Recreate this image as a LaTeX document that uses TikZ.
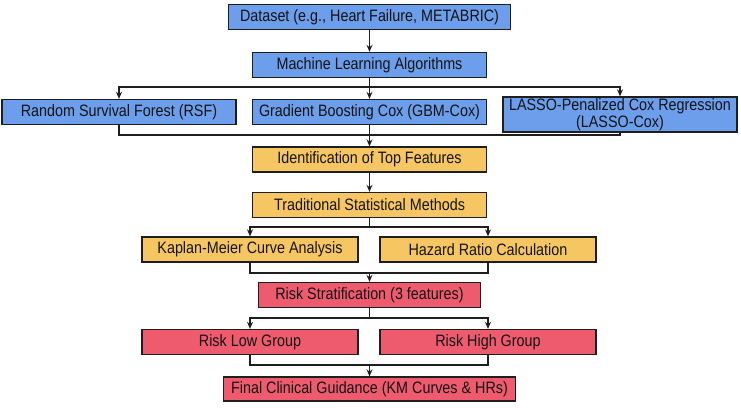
\documentclass[tikz,border=0pt]{standalone}
\usepackage{fontspec}
\setmainfont[FakeStretch=0.87]{Liberation Sans}
\usetikzlibrary{arrows.meta}
\definecolor{bbox}{HTML}{6D9EEB}
\definecolor{ybox}{HTML}{F6C662}
\definecolor{rbox}{HTML}{EE5B6F}
\definecolor{edge}{HTML}{1E1E1E}
\begin{document}
\begin{tikzpicture}[x=1pt,y=-1pt,
 box/.style={draw=edge, line width=1.3pt, minimum height=25pt, inner sep=0pt, font=\fontsize{16.5}{17.5}\selectfont, text=black!92},
 arr/.style={draw=edge, -{Stealth[length=7pt,width=6pt]}, line width=1.2pt},
 ln/.style={draw=edge, line width=1.2pt}]
\fill[white] (0,0) rectangle (741,407);
\useasboundingbox (0,0) rectangle (741,407);

\node[box, fill=bbox, minimum width=282pt] (ds) at (369.5,17) {Dataset (e.g., Heart Failure, METABRIC)};
\node[box, fill=bbox, minimum width=234pt] (ml) at (369.5,65) {Machine Learning Algorithms};
\node[box, fill=bbox, minimum width=234pt] (rsf) at (119,112) {Random Survival Forest (RSF)};
\node[box, fill=bbox, minimum width=234pt] (gbm) at (369.5,112) {Gradient Boosting Cox (GBM-Cox)};
\node[box, fill=bbox, minimum width=234pt, minimum height=35pt, align=center] (lasso) at (620,114.5) {LASSO-Penalized Cox Regression\\(LASSO-Cox)};
\node[box, fill=ybox, minimum width=234pt] (itf) at (369.5,159.5) {Identification of Top Features};
\node[box, fill=ybox, minimum width=234pt] (tsm) at (369.5,205) {Traditional Statistical Methods};
\node[box, fill=ybox, minimum width=216pt] (km) at (250,249.5) {Kaplan-Meier Curve Analysis};
\node[box, fill=ybox, minimum width=216pt] (hr) at (488,249.5) {Hazard Ratio Calculation};
\node[box, fill=rbox, minimum width=222pt] (rs) at (369.5,295) {Risk Stratification (3 features)};
\node[box, fill=rbox, minimum width=216pt] (low) at (250,342) {Risk Low Group};
\node[box, fill=rbox, minimum width=216pt] (high) at (488,342) {Risk High Group};
\node[box, fill=rbox, minimum width=292pt, minimum height=24pt] (fin) at (369.5,389) {Final Clinical Guidance (KM Curves \& HRs)};

\coordinate (f1) at (369.5,87);
\coordinate (m1) at (369.5,135);
\coordinate (f2) at (369.5,227);
\coordinate (m2) at (369.5,273);
\coordinate (f3) at (369.5,318);
\coordinate (m3) at (369.5,365);

\draw[arr] (ds) -- (ml);
\draw[ln] (ml.south) -- (f1);
\draw[arr] (f1) -| (rsf.north);
\draw[arr] (f1) -| (lasso.north);
\draw[arr] (f1) -- (gbm.north);
\draw[ln] (rsf.south) |- (m1);
\draw[ln] (lasso.south) |- (m1);
\draw[ln] (gbm.south) -- (m1);
\draw[arr] (m1) -- (itf.north);

\draw[arr] (itf) -- (tsm);
\draw[ln] (tsm.south) -- (f2);
\draw[arr] (f2) -| (km.north);
\draw[arr] (f2) -| (hr.north);
\draw[ln] (km.south) |- (m2);
\draw[ln] (hr.south) |- (m2);
\draw[arr] (m2) -- (rs.north);

\draw[ln] (rs.south) -- (f3);
\draw[arr] (f3) -| (low.north);
\draw[arr] (f3) -| (high.north);
\draw[ln] (low.south) |- (m3);
\draw[ln] (high.south) |- (m3);
\draw[arr] (m3) -- (fin.north);
\end{tikzpicture}
\end{document}
